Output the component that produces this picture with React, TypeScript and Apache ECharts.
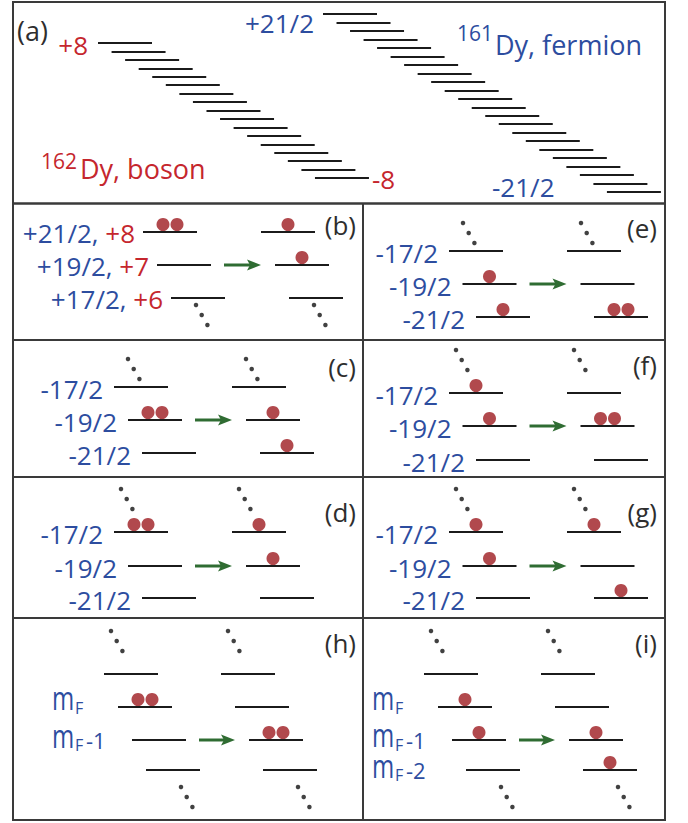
import React, { useEffect, useRef } from "react";
import * as echarts from "echarts";

const W = 688;
const H = 823;

// ---------------- data ----------------
// (a) Zeeman ladders
const bosonM = [8, 7, 6, 5, 4, 3, 2, 1, 0, -1, -2, -3, -4, -5, -6, -7, -8];
const fermionTwoM = [21, 19, 17, 15, 13, 11, 9, 7, 5, 3, 1, -1, -3, -5, -7, -9, -11, -13, -15, -17, -19, -21];
const bosonEnds = ["+8", "-8"];
const fermionEnds = ["+21/2", "-21/2"];
const bosonIsotope = ["162", "Dy, boson"];
const fermionIsotope = ["161", "Dy, fermion"];

// level labels
const labelsB_fermion = ["+21/2,", "+19/2,", "+17/2,"];
const labelsB_boson = ["+8", "+7", "+6"];
const labelsNeg = ["-17/2", "-19/2", "-21/2"];
const labelsH_suffix = [null, "", "-1", null];
const labelsI_suffix = [null, "", "-1", "-2"];

// occupations (atoms per level), before -> after
const occB_before = [2, 0, 0];
const occB_after = [1, 1, 0];
const occC_before = [0, 2, 0];
const occC_after = [0, 1, 1];
const occD_before = [2, 0, 0];
const occD_after = [1, 1, 0];
const occE_before = [0, 1, 1];
const occE_after = [0, 0, 2];
const occF_before = [1, 1, 0];
const occF_after = [0, 2, 0];
const occG_before = [1, 1, 0];
const occG_after = [1, 0, 1];
const occH_before = [0, 2, 0, 0];
const occH_after = [0, 0, 2, 0];
const occI_before = [0, 1, 1, 0];
const occI_after = [0, 0, 1, 1];

// ---------------- styles / layout ----------------
const BLUE = "#2d4d9f";
const RED = "#c5262d";
const ATOM = "#9d1b20";
const GREEN = "#2f6c32";
const INK = "#1b1b1b";
const FRAME = "#3a3a3a";
const TAG = "#2e2e2e";
const FONT = "'Open Sans', Lato, sans-serif";
const FS = 26;

const LADDER_A = {
  boson: { x0: 98, y0: 43, dx: 13.56, dy: 8.44 },
  fermion: { x0: 323, y0: 14, dx: 13.52, dy: 8.48 },
  len: 54,
};
const LEN = 54;

const TOP_NORMAL = [-13, -28];
const TOP_RAISED = [-20, -43];

const panels = [
  { tag: "(b)", before: occB_before, after: occB_after, kind: "mixed", x0: 143, rows: [232, 265, 298], dx: 14, shift: 118, gap: 8, arrowRow: 1, dotsTop: null, dotsBottom: [-2, 7], tagPos: [356, 225] },
  { tag: "(c)", before: occC_before, after: occC_after, kind: "neg", x0: 114, rows: [387, 420, 453], dx: 14, shift: 118, gap: 11, arrowRow: 1, dotsTop: TOP_NORMAL, dotsBottom: null, tagPos: [356, 367] },
  { tag: "(d)", before: occD_before, after: occD_after, kind: "neg", x0: 114, rows: [532, 566, 598], dx: 14, shift: 118, gap: 11, arrowRow: 1, dotsTop: TOP_RAISED, dotsBottom: null, tagPos: [356, 512] },
  { tag: "(e)", before: occE_before, after: occE_after, kind: "neg", x0: 449, rows: [251, 284, 317], dx: 13.5, shift: 118, gap: 11, arrowRow: 1, dotsTop: TOP_NORMAL, dotsBottom: null, tagPos: [657, 228] },
  { tag: "(f)", before: occF_before, after: occF_after, kind: "neg", x0: 449, rows: [393, 426, 460], dx: 13.5, shift: 118, gap: 11, arrowRow: 1, dotsTop: TOP_RAISED, dotsBottom: null, tagPos: [657, 365] },
  { tag: "(g)", before: occG_before, after: occG_after, kind: "neg", x0: 449, rows: [532, 566, 598], dx: 13.5, shift: 118, gap: 11, arrowRow: 1, dotsTop: TOP_RAISED, dotsBottom: null, tagPos: [657, 512] },
  { tag: "(h)", before: occH_before, after: occH_after, kind: "mf", suffix: labelsH_suffix, mfX: 52, mfY: [0, 702.5, 740, 0], x0: 104, rows: [674, 707, 740, 770], dx: 14, shift: 117, gap: 0, arrowRow: 2, dotsTop: TOP_RAISED, dotsBottom: [8, 17], tagPos: [356, 643] },
  { tag: "(i)", before: occI_before, after: occI_after, kind: "mf", suffix: labelsI_suffix, mfX: 372, mfY: [0, 702.5, 739.5, 770], x0: 424, rows: [674, 707, 740, 770], dx: 14, shift: 117, gap: 0, arrowRow: 2, dotsTop: TOP_RAISED, dotsBottom: [8, 17], tagPos: [657, 643] },
];

function txt(text: string, x: number, y: number, size: number, fill: string, align = "left", extra: any = {}) {
  return {
    type: "text",
    x,
    y,
    silent: true,
    ...extra,
    style: {
      text,
      x: 0,
      y: 0,
      fill,
      font: `${size}px ${FONT}`,
      align,
      textAlign: align,
      verticalAlign: "middle",
      textVerticalAlign: "middle",
    },
  };
}

function buildOption() {
  const levels: any[] = [];
  const atoms: number[][] = [];
  const dots: number[][] = [];
  const arrows: number[][] = [];
  const graphics: any[] = [];

  // ---- (a) ladders
  bosonM.forEach((_m, i) => {
    const c = LADDER_A.boson;
    const x = c.x0 + c.dx * i;
    const y = c.y0 + c.dy * i;
    levels.push({ coords: [[x, y], [x + LADDER_A.len, y]] });
  });
  fermionTwoM.forEach((_m, j) => {
    const c = LADDER_A.fermion;
    const x = c.x0 + c.dx * j;
    const y = c.y0 + c.dy * j;
    levels.push({ coords: [[x, y], [x + LADDER_A.len, y]] });
  });

  graphics.push(txt("(a)", 17, 30, 27, TAG));
  graphics.push(txt(bosonEnds[0], 88, 45, FS, RED, "right"));
  graphics.push(txt(bosonEnds[1], 372, 179, FS, RED));
  graphics.push(txt(fermionEnds[0], 314, 23, FS, BLUE, "right"));
  graphics.push(txt(fermionEnds[1], 492, 187, FS, BLUE));
  graphics.push(txt(fermionIsotope[0], 457, 32.5, 21, BLUE));
  graphics.push(txt(fermionIsotope[1], 495, 44, FS + 1, BLUE));
  graphics.push(txt(bosonIsotope[0], 41, 160.5, 21, RED));
  graphics.push(txt(bosonIsotope[1], 80, 168.5, FS + 1, RED));

  // ---- panels (b)-(i)
  panels.forEach((p: any) => {
    [0, 1].forEach((side) => {
      const occ: number[] = side ? p.after : p.before;
      occ.forEach((n, r) => {
        const x1 = p.x0 + p.dx * r + side * p.shift;
        const y = p.rows[r];
        levels.push({ coords: [[x1, y], [x1 + LEN, y]] });
        const cx = x1 + LEN / 2;
        if (n === 1) atoms.push([cx, y - 7.5]);
        if (n === 2) {
          atoms.push([cx - 7, y - 7.5]);
          atoms.push([cx + 7, y - 7.5]);
        }
      });
      if (p.dotsTop) {
        const cx = p.x0 + side * p.shift + LEN / 2;
        for (let k = 0; k < 3; k++) dots.push([cx + p.dotsTop[0] + 5.7 * k, p.rows[0] + p.dotsTop[1] + 10 * k]);
      }
      if (p.dotsBottom) {
        const last = occ.length - 1;
        const cx = p.x0 + p.dx * last + side * p.shift + LEN / 2;
        for (let k = 0; k < 3; k++) dots.push([cx + p.dotsBottom[0] + 5.7 * k, p.rows[last] + p.dotsBottom[1] + 10 * k]);
      }
    });
    const r = p.arrowRow;
    const leftEnd = p.x0 + p.dx * r + LEN;
    const rightStart = p.x0 + p.dx * r + p.shift;
    arrows.push([leftEnd + 13, rightStart - 14, p.rows[r]]);

    // labels
    if (p.kind === "neg") {
      labelsNeg.forEach((t, i) => {
        graphics.push(txt(t, p.x0 + p.dx * i - p.gap, p.rows[i] + 2, FS, BLUE, "right"));
      });
    } else if (p.kind === "mixed") {
      labelsB_fermion.forEach((t, i) => {
        graphics.push({
          type: "text",
          x: p.x0 + p.dx * i - p.gap,
          y: p.rows[i] + 1,
          silent: true,
          style: {
            text: `{f|${t}} {b|${labelsB_boson[i]}}`,
            x: 0,
            y: 0,
            fill: BLUE,
            font: `${FS}px ${FONT}`,
            align: "right",
            textAlign: "right",
            verticalAlign: "middle",
            textVerticalAlign: "middle",
            rich: {
              f: { fill: BLUE, color: BLUE, font: `${FS}px ${FONT}` },
              b: { fill: RED, color: RED, font: `${FS}px ${FONT}` },
            },
          },
        });
      });
    } else if (p.kind === "mf") {
      p.suffix.forEach((s: string | null, i: number) => {
        if (s === null) return;
        const cy = p.mfY[i];
        graphics.push(txt("m", p.mfX, cy - 5, 24, BLUE, "left", { scaleX: 1, scaleY: 1.4, originX: 0, originY: 0 }));
        graphics.push(txt("F", p.mfX + 23, cy + 5, 16, BLUE));
        if (s) graphics.push(txt(s, p.mfX + 34, cy, 22, BLUE));
      });
    }
    graphics.push(txt(p.tag, p.tagPos[0], p.tagPos[1], 26, TAG, "right"));
  });

  // ---- frame
  const frameLine = (x1: number, y1: number, x2: number, y2: number, w = 2) => ({
    type: "line",
    silent: true,
    shape: { x1, y1, x2, y2 },
    style: { stroke: FRAME, lineWidth: w },
  });
  graphics.push({
    type: "rect",
    silent: true,
    shape: { x: 13, y: 2, width: 652, height: 818 },
    style: { fill: "none", stroke: FRAME, lineWidth: 2 },
  });
  graphics.push(frameLine(13, 203.5, 665, 203.5, 2.5));
  graphics.push(frameLine(363, 203.5, 363, 820));
  graphics.push(frameLine(13, 340, 665, 340));
  graphics.push(frameLine(13, 477, 665, 477));
  graphics.push(frameLine(13, 618, 665, 618));

  return {
    animation: false,
    backgroundColor: "#ffffff",
    grid: { left: 0, right: 0, top: 0, bottom: 0, containLabel: false },
    xAxis: { type: "value", min: 0, max: W, show: false },
    yAxis: { type: "value", min: 0, max: H, inverse: true, show: false },
    series: [
      {
        type: "lines",
        coordinateSystem: "cartesian2d",
        silent: true,
        data: levels,
        symbol: ["none", "none"],
        lineStyle: { color: INK, width: 2.2, opacity: 1, curveness: 0 },
        z: 2,
      },
      {
        type: "scatter",
        silent: true,
        data: dots,
        symbol: "circle",
        symbolSize: 4.5,
        itemStyle: { color: "#111111" },
        z: 3,
      },
      {
        type: "custom",
        silent: true,
        data: arrows,
        encode: { x: [0, 1], y: 2 },
        renderItem: (_params: any, api: any) => {
          const p1 = api.coord([api.value(0), api.value(2)]);
          const p2 = api.coord([api.value(1), api.value(2)]);
          const L = 14;
          const hw = 5.5;
          return {
            type: "group",
            children: [
              {
                type: "line",
                shape: { x1: p1[0], y1: p1[1], x2: p2[0] - L + 4, y2: p2[1] },
                style: { stroke: GREEN, lineWidth: 3 },
              },
              {
                type: "polygon",
                shape: {
                  points: [
                    [p2[0], p2[1]],
                    [p2[0] - L, p2[1] - hw],
                    [p2[0] - L + 3, p2[1]],
                    [p2[0] - L, p2[1] + hw],
                  ],
                },
                style: { fill: GREEN },
              },
            ],
          };
        },
        z: 4,
      },
      {
        type: "scatter",
        silent: true,
        data: atoms,
        symbol: "circle",
        symbolSize: 13,
        itemStyle: { color: ATOM },
        z: 5,
      },
    ],
    graphic: graphics,
  };
}

export default function App() {
  const ref = useRef<HTMLDivElement>(null);
  useEffect(() => {
    document.body.style.margin = "0";
    if (!ref.current) return;
    const chart = echarts.init(ref.current, undefined, { renderer: "svg" });
    chart.setOption(buildOption() as any);
    return () => chart.dispose();
  }, []);
  return (
    <div
      ref={ref}
      style={{ position: "fixed", left: 0, top: 0, width: W, height: H, background: "#fff" }}
    />
  );
}
